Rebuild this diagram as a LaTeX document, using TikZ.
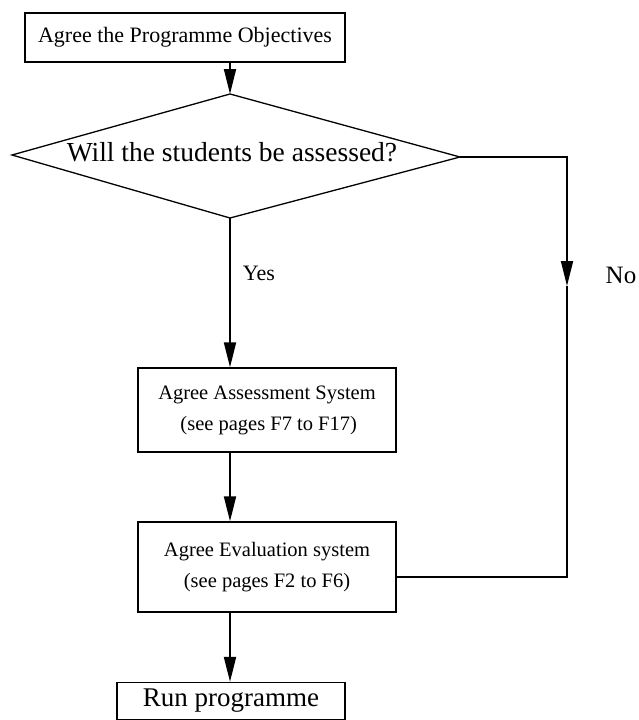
\documentclass[tikz,border=0pt]{standalone}
\usepackage{fontspec}
\setmainfont{Liberation Serif}
\usetikzlibrary{arrows.meta}
\begin{document}
\begin{tikzpicture}[x=1pt,y=-1pt,
  box/.style={draw, line width=1.3pt, inner sep=0pt, align=center, font=\fontsize{20.5}{31}\selectfont},
  lbl/.style={font=\fontsize{22}{26}\selectfont, inner sep=0pt},
  conn/.style={line width=1.8pt, -{Triangle[length=25pt,width=12pt]}},
  plain/.style={line width=1.8pt}]
\useasboundingbox (0,0) rectangle (638,720);
\node[box, font=\fontsize{22}{26}\selectfont, minimum width=320pt, minimum height=49pt] (obj) at (185,37.5) {Agree the Programme Objectives};
\coordinate (dT) at (230,94);
\coordinate (dL) at (12,155);
\coordinate (dR) at (460,157);
\coordinate (dB) at (230,218);
\draw[line width=1.3pt] (dT) -- (dR) -- (dB) -- (dL) -- cycle;
\node[lbl, font=\fontsize{27.5}{30}\selectfont] (q) at (232,152) {Will the students be assessed?};
\node[box, minimum width=258pt, minimum height=84pt] (ass) at (267,410) {Agree Assessment System\\ \,(see pages F7 to F17)};
\node[box, minimum width=258pt, minimum height=90pt] (eva) at (267,567) {Agree Evaluation system\\ (see pages F2 to F6)};
\node[box, font=\fontsize{27}{30}\selectfont, minimum width=228pt, minimum height=37pt] (run) at (231,701) {Run programme};
\node[lbl] (yes) at (259,273) {Yes};
\node[lbl, font=\fontsize{25}{28}\selectfont] (no) at (621,275) {No};
\coordinate (nc) at (567,157);
\coordinate (na) at (567,286);
\coordinate (nb) at (567,577);
\draw[conn] (obj.south -| dT) -- (dT);
\draw[conn] (dB) -- (dB |- ass.north);
\draw[conn] (dB |- ass.south) -- (dB |- eva.north);
\draw[conn] (dB |- eva.south) -- (dB |- run.north);
\draw[conn] (dR) -- (nc) -- (na);
\draw[plain] (na) -- (nb) -- (nb -| eva.east);
\end{tikzpicture}
\end{document}
